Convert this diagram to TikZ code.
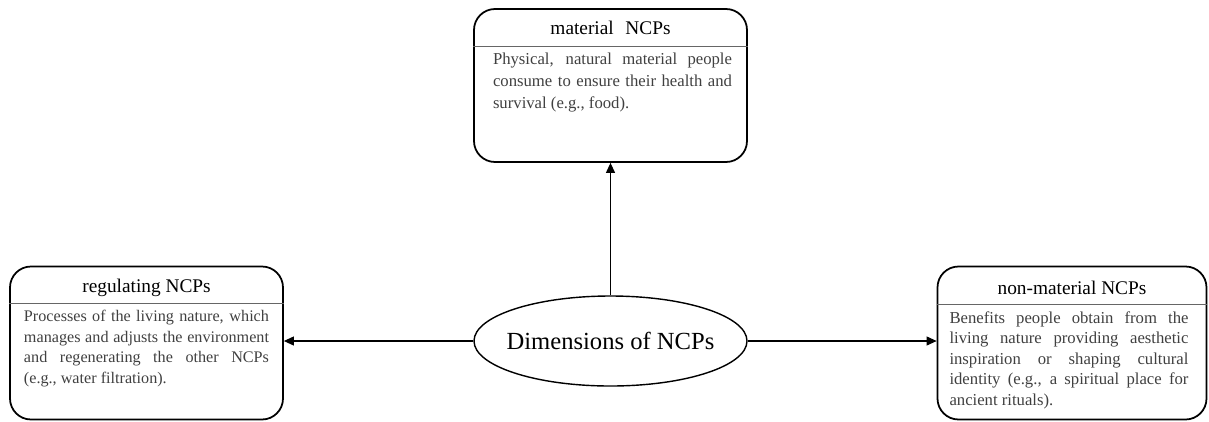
\documentclass[tikz,border=0pt]{standalone}
\usepackage{fontspec}
\setmainfont{Liberation Serif}
\usetikzlibrary{shapes.geometric,calc,arrows.meta}
\hyphenpenalty=10000
\exhyphenpenalty=10000
\tolerance=9999

\begin{document}
\begin{tikzpicture}
        \useasboundingbox (0,0) rectangle (24.18,-8.42);
        \begin{scope}[every node/.style={draw, line width=1pt, rounded corners=0.42cm, minimum width=5.46cm, minimum height=3.06cm}]
                \node (mat) at (12.21,-1.71) {};
                \node (reg) at (2.93,-6.86) {};
                \node [minimum width=5.38cm] (non) at (21.44,-6.86) {};
        \end{scope}
        \node [draw, ellipse, line width=0.8pt, minimum width=5.46cm, minimum height=1.8cm, inner sep=0pt] (dim) at (12.21,-6.82) {};
        \node [inner sep=0pt, font=\fontsize{14}{16}\selectfont] (dimT) at (dim.center) {Dimensions of NCPs};
        \begin{scope}[every node/.style={inner sep=0pt, font=\fontsize{11}{13}\selectfont}]
                \node (matT) at ($(mat.north)+(0,-0.40)$) {material\hspace{0.35em} NCPs};
                \node (regT) at ($(reg.north)+(0,-0.45)$) {regulating NCPs};
                \node (nonT) at ($(non.north)+(0,-0.45)$) {non-material NCPs};
        \end{scope}
        \begin{scope}[every path/.style={draw=black!60, line width=0.5pt}]
                \path ($(mat.north west)+(0,-0.76)$) -- ($(mat.north east)+(0,-0.76)$);
                \path ($(reg.north west)+(0,-0.76)$) -- ($(reg.north east)+(0,-0.76)$);
                \path ($(non.north west)+(0,-0.78)$) -- ($(non.north east)+(0,-0.78)$);
        \end{scope}
        \begin{scope}[every node/.style={anchor=north, inner sep=0pt, text width=4.78cm, align=justify, text=black!75, font=\fontsize{9.5}{11.7}\selectfont}]
                \node [font=\fontsize{9.5}{12.5}\selectfont] (matB) at ($(mat.north)+(0.04,-0.89)$) {Physical, natural material people consume to ensure their health and survival (e.g., food).};
                \node [text width=4.9cm, font=\fontsize{9.2}{11.7}\selectfont] (regB) at ($(reg.north)+(0,-0.89)$) {Processes of the living nature, which\linebreak manages and adjusts the environment\linebreak and regenerating the other NCPs\linebreak (e.g., water filtration).};
                \node (nonB) at ($(non.north)+(-0.06,-0.91)$) {Benefits people obtain from the living nature providing aesthetic inspiration or shaping cultural identity (e.g., a spiritual place for ancient rituals).};
        \end{scope}
        \begin{scope}[every path/.style={line width=0.6pt, ->, >={Triangle[length=2mm,width=1.8mm]}}]
                \path (dim.north) edge (mat.south);
                \path (dim.west) edge (dim.west -| reg.east);
                \path (dim.east) edge (dim.east -| non.west);
        \end{scope}
\end{tikzpicture}
\end{document}
